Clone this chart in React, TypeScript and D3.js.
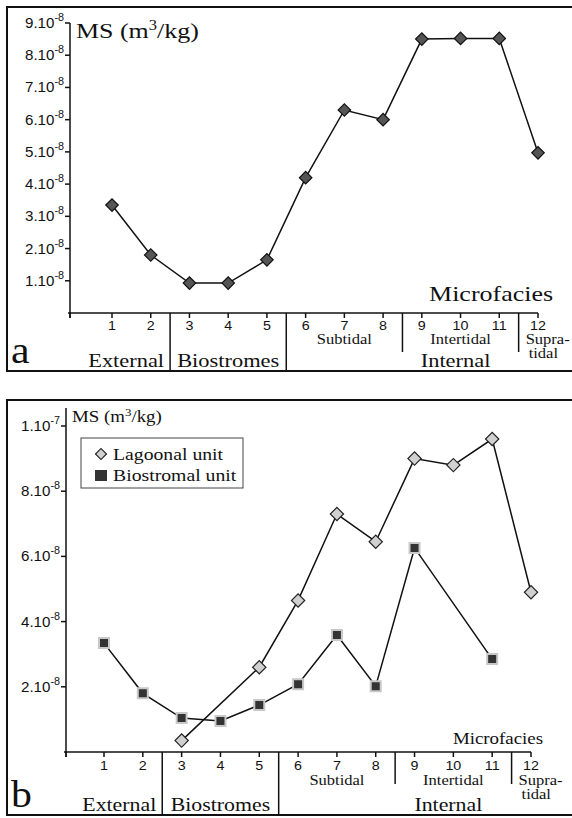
import React from 'react';
import * as d3 from 'd3';

// microfacies 1..12
const microfacies = [1, 2, 3, 4, 5, 6, 7, 8, 9, 10, 11, 12];

// panel a: MS in units of 1e-8 m3/kg
const msValuesA = [3.35, 1.8, 0.93, 0.93, 1.65, 4.2, 6.3, 6.0, 8.5, 8.52, 8.52, 4.97];
const yTicksA = [1, 2, 3, 4, 5, 6, 7, 8, 9];

// panel b: MS in units of 1e-8 m3/kg, null = no sample
const lagoonal = [null, null, 0.35, null, 2.6, 4.65, 7.3, 6.45, 9.0, 8.8, 9.6, 4.9];
const biostromal = [3.34, 1.8, 1.04, 0.95, 1.44, 2.08, 3.59, 2.02, 6.26, null, 2.85, null];
const yTicksB = [
  { v: 10, m: '1', e: '-7' },
  { v: 8, m: '8', e: '-8' },
  { v: 6, m: '6', e: '-8' },
  { v: 4, m: '4', e: '-8' },
  { v: 2, m: '2', e: '-8' },
];

const groups = [
  { label: 'External', from: 1, to: 2 },
  { label: 'Biostromes', from: 3, to: 5 },
];
const subGroups = [
  { label: 'Subtidal', from: 6, to: 8 },
  { label: 'Intertidal', from: 9, to: 11 },
];

const serif = '"Liberation Serif", "Times New Roman", serif';
const sans = '"Liberation Sans", Arial, sans-serif';
const SX = 1.18; // the figure is a bit wider than tall

// text drawn with a slight horizontal stretch
const T = ({ x, y, size, anchor = 'start', family = serif, sx = SX, children }: any) => (
  <text transform={`translate(${x},${y}) scale(${sx},1)`} textAnchor={anchor} fontFamily={family} fontSize={size} fill="#111">
    {children}
  </text>
);

type Pt = { x: number; v: number | null };

const Panel = (p: any) => {
  const { mode, top, bottom, letter, xRange, axisLeft, yRange, yMax, yTickLabels } = p;
  const x = d3.scaleLinear().domain([1, 12]).range(xRange);
  const y = d3.scaleLinear().domain([0, yMax]).range(yRange);
  const axisY = yRange[0];
  const step = x(2) - x(1);
  const mid = (i: number) => x(i) + step / 2;
  const line = d3.line<any>().x(d => x(d.x)).y(d => y(d.v));
  const sep = [2, 5, 8, 11];
  const isA = mode === 'a';
  const bigFont = isA ? 19 : 18.5;
  const smallFont = 14;
  const tickY = axisY + (isA ? 17 : 18);
  const subY = axisY + (isA ? 31 : 33);
  const grpY = bottom - 4;

  const series = (vals: (number | null)[]) =>
    vals.map((v, i) => ({ x: microfacies[i], v })).filter((d: Pt) => d.v != null);

  const diamond = d3.symbol().type(d3.symbolSquare).size(isA ? 78 : 88)();
  const square = d3.symbol().type(d3.symbolSquare).size(100)();

  return (
    <g>
      <rect x={7} y={top} width={580} height={bottom - top} fill="#fff" stroke="#111" strokeWidth={2} />
      {/* y axis */}
      <line x1={axisLeft} x2={axisLeft} y1={axisY + 5} y2={y(yMax) - (isA ? 0 : 18)} stroke="#111" strokeWidth={1.5} />
      {yTickLabels.map((t: any) => (
        <g key={t.v}>
          <line x1={axisLeft - 5} x2={axisLeft} y1={y(t.v)} y2={y(t.v)} stroke="#111" strokeWidth={1.5} />
          <T x={axisLeft - 6} y={y(t.v) + 5} anchor="end" family={sans} size={14} sx={1.08}>
            {t.m}.10<tspan dy={-7} fontSize={10}>{t.e}</tspan>
          </T>
        </g>
      ))}
      <T x={axisLeft + 6} y={isA ? 38 : top + 22} size={isA ? 22 : 16}>
        MS (m<tspan dy={isA ? -8 : -6} fontSize={isA ? 14 : 11}>3</tspan><tspan dy={isA ? 8 : 6}>/kg)</tspan>
      </T>
      {/* x axis */}
      <line x1={axisLeft - 2} x2={x(12)} y1={axisY} y2={axisY} stroke="#111" strokeWidth={1.5} />
      <line x1={axisLeft} x2={axisLeft} y1={axisY} y2={axisY + 5} stroke="#111" strokeWidth={1.5} />
      {microfacies.map(m => (
        <g key={m}>
          <line x1={x(m)} x2={x(m)} y1={axisY} y2={axisY + 5} stroke="#111" strokeWidth={1.5} />
          <T x={x(m)} y={tickY} anchor="middle" family={sans} size={13} sx={1.1}>{m}</T>
        </g>
      ))}
      <T x={x(12) + (isA ? 15 : 12)} y={axisY - (isA ? 12 : 8)} anchor="end" size={isA ? 22 : 16}>Microfacies</T>
      {sep.map((s, i) => (
        <line key={s} x1={mid(s)} x2={mid(s)} y1={axisY} y2={i < 2 ? bottom : axisY + (isA ? 39 : 32)} stroke="#111" strokeWidth={1.5} />
      ))}
      {groups.map((g, i) => (
        <T key={g.label} x={i === 0 ? mid(g.to) - 6 : (mid(g.from - 1) + mid(g.to)) / 2} y={grpY} anchor={i === 0 ? 'end' : 'middle'} size={bigFont}>{g.label}</T>
      ))}
      {subGroups.map(g => (
        <T key={g.label} x={x((g.from + g.to) / 2)} y={subY} anchor="middle" size={smallFont}>{g.label}</T>
      ))}
      <T x={x(10) - 5} y={grpY} anchor="middle" size={bigFont}>Internal</T>
      <T x={mid(11) + 7} y={subY} size={smallFont}>Supra-</T>
      <T x={mid(11) + 10} y={subY + 14} size={smallFont}>tidal</T>
      <T x={11} y={bottom - 8} size={38} sx={1.1}>{letter}</T>

      {isA && (
        <g>
          <path d={line(series(msValuesA)) || ''} fill="none" stroke="#111" strokeWidth={1.5} />
          {series(msValuesA).map(d => (
            <path key={d.x} d={diamond} transform={`translate(${x(d.x)},${y(d.v as number)}) rotate(45)`} fill="#555" stroke="#111" strokeWidth={1.2} />
          ))}
        </g>
      )}
      {!isA && (
        <g>
          <path d={line(series(lagoonal)) || ''} fill="none" stroke="#111" strokeWidth={1.5} />
          <path d={line(series(biostromal)) || ''} fill="none" stroke="#111" strokeWidth={1.5} />
          {series(biostromal).map(d => (
            <path key={d.x} d={square} transform={`translate(${x(d.x)},${y(d.v as number)})`} fill="#333" stroke="#c8c8c8" strokeWidth={2} />
          ))}
          {series(lagoonal).map(d => (
            <path key={d.x} d={diamond} transform={`translate(${x(d.x)},${y(d.v as number)}) rotate(45)`} fill="#d0d0d0" stroke="#222" strokeWidth={1.2} />
          ))}
          {/* legend */}
          <rect x={81} y={438} width={162} height={50} fill="#fff" stroke="#444" strokeWidth={1} />
          <path d={d3.symbol().type(d3.symbolSquare).size(60)() || ''} transform="translate(101,454) rotate(45)" fill="#d0d0d0" stroke="#222" strokeWidth={1.2} />
          <T x={113} y={460} size={17} sx={1.16}>Lagoonal unit</T>
          <rect x={95} y={470} width={12} height={11} fill="#333" />
          <T x={113} y={481} size={17} sx={1.16}>Biostromal unit</T>
        </g>
      )}
    </g>
  );
};

export default function App() {
  return (
    <svg width={572} height={818} style={{ position: 'absolute', left: 0, top: 0, background: '#fff' }}>
      <Panel
        mode="a"
        top={7}
        bottom={371}
        letter="a"
        xRange={[112, 538]}
        axisLeft={70}
        yRange={[313, 23]}
        yMax={9}
        yTickLabels={yTicksA.map(v => ({ v, m: String(v), e: '-8' }))}
      />
      <Panel
        mode="b"
        top={400}
        bottom={815}
        letter="b"
        xRange={[104, 531]}
        axisLeft={66}
        yRange={[752, 426]}
        yMax={10}
        yTickLabels={yTicksB}
      />
    </svg>
  );
}
